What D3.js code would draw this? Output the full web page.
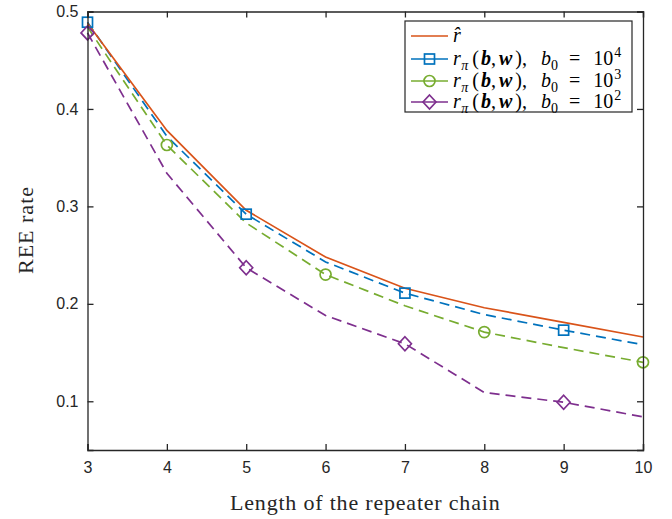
<!DOCTYPE html>
<html>
<head>
<meta charset="utf-8">
<script src="https://cdn.jsdelivr.net/npm/d3@7"></script>
<style>
  body { margin: 0; background: #fff; }
  svg { display: block; }
</style>
</head>
<body>
<div id="chart"></div>
<script>
// data
var lengths = [3, 4, 5, 6, 7, 8, 9, 10];
var rHat    = [0.488, 0.378, 0.296, 0.248, 0.216, 0.196, 0.181, 0.166];
var rB4     = [0.489, 0.372, 0.292, 0.243, 0.211, 0.189, 0.173, 0.158];
var rB3     = [0.484, 0.363, 0.283, 0.230, 0.198, 0.171, 0.155, 0.140];
var rB2     = [0.478, 0.334, 0.237, 0.188, 0.159, 0.109, 0.099, 0.084];
var xTicks  = [3, 4, 5, 6, 7, 8, 9, 10];
var yTicks  = [0.1, 0.2, 0.3, 0.4, 0.5];

var W = 672, H = 519;
var margin = {top: 11.5, right: 29, bottom: 69, left: 87.5},
    width = W - margin.left - margin.right,
    height = H - margin.top - margin.bottom;

var svg = d3.select("#chart")
  .append("svg")
    .attr("width", W)
    .attr("height", H)
  .append("g")
    .attr("transform", "translate(" + margin.left + "," + margin.top + ")");

var x = d3.scaleLinear().domain([3, 10]).range([0, width]);
var y = d3.scaleLinear().domain([0.05, 0.5]).range([height, 0]);

var series = [
  {name: "hat",  vals: rHat, color: "#D95319", dash: null,   marker: null,      idx: []},
  {name: "b4",   vals: rB4,  color: "#0072BD", dash: "10,6", marker: "square",  idx: [0, 2, 4, 6]},
  {name: "b3",   vals: rB3,  color: "#77AC30", dash: "10,6", marker: "circle",  idx: [1, 3, 5, 7]},
  {name: "b2",   vals: rB2,  color: "#7E2F8E", dash: "10,6", marker: "diamond", idx: [0, 2, 4, 6]}
];

var line = d3.line()
  .x(function(d, i) { return x(lengths[i]); })
  .y(function(d) { return y(d); });

// draw purple first so orange sits on top like the original
series.slice().reverse().forEach(function(s) {
  svg.append("path")
    .datum(s.vals)
    .attr("d", line)
    .attr("fill", "none")
    .attr("stroke", s.color)
    .attr("stroke-width", 1.7)
    .attr("stroke-dasharray", s.dash);
});

function drawMarker(g, type, cx, cy, color) {
  if (type === "square") {
    g.append("rect").attr("x", cx - 5).attr("y", cy - 5).attr("width", 10).attr("height", 10)
      .attr("fill", "none").attr("stroke", color).attr("stroke-width", 1.7);
  } else if (type === "circle") {
    g.append("circle").attr("cx", cx).attr("cy", cy).attr("r", 5.5)
      .attr("fill", "none").attr("stroke", color).attr("stroke-width", 1.7);
  } else if (type === "diamond") {
    g.append("path")
      .attr("d", "M" + cx + "," + (cy - 7) + "L" + (cx + 6.5) + "," + cy + "L" + cx + "," + (cy + 7) + "L" + (cx - 6.5) + "," + cy + "Z")
      .attr("fill", "none").attr("stroke", color).attr("stroke-width", 1.7);
  }
}

series.forEach(function(s) {
  s.idx.forEach(function(i) {
    drawMarker(svg, s.marker, x(lengths[i]), y(s.vals[i]), s.color);
  });
});

// axes: ticks pointing inward, box on
var tickFont = "'Liberation Sans', Arial, sans-serif";
var xAxis = svg.append("g")
  .attr("transform", "translate(0," + height + ")")
  .call(d3.axisBottom(x).tickValues(xTicks).tickSize(-6).tickPadding(12).tickFormat(d3.format("d")));
var xTop = svg.append("g")
  .call(d3.axisTop(x).tickValues(xTicks).tickSize(-6).tickFormat(""));
var yAxis = svg.append("g")
  .call(d3.axisLeft(y).tickValues(yTicks).tickSize(-6).tickPadding(9).tickFormat(d3.format(".1f")));
var yRight = svg.append("g")
  .attr("transform", "translate(" + width + ",0)")
  .call(d3.axisRight(y).tickValues(yTicks).tickSize(-6).tickFormat(""));

[xAxis, xTop, yAxis, yRight].forEach(function(a) {
  a.select(".domain").attr("stroke", "#262626").attr("stroke-width", 1.3);
  a.selectAll(".tick line").attr("stroke", "#262626").attr("stroke-width", 1.3);
  a.selectAll(".tick text").attr("fill", "#262626").style("font-family", tickFont).style("font-size", "16px");
});

// axis labels
var serif = "'Liberation Serif', 'DejaVu Serif', serif";
svg.append("text")
  .attr("x", width / 2)
  .attr("y", 510 - margin.top)
  .attr("text-anchor", "middle")
  .style("font-family", serif)
  .style("font-size", "22px")
  .style("letter-spacing", "0.8px")
  .attr("fill", "#262626")
  .text("Length of the repeater chain");

svg.append("text")
  .attr("transform", "translate(" + (33 - margin.left) + "," + (230 - margin.top) + ") rotate(-90)")
  .attr("text-anchor", "middle")
  .style("font-family", serif)
  .style("font-size", "22px")
  .style("letter-spacing", "1px")
  .attr("fill", "#262626")
  .text("REE rate");

// legend
var lg = svg.append("g").attr("transform", "translate(" + (405 - margin.left) + "," + (21 - margin.top) + ")");
lg.append("rect")
  .attr("width", 227).attr("height", 91)
  .attr("fill", "#fff").attr("stroke", "#262626").attr("stroke-width", 1.2);

var rowY = [15, 38, 60, 81];
var bVals = ["4", "3", "2"];
series.forEach(function(s, k) {
  var ry = rowY[k];
  lg.append("line")
    .attr("x1", 6).attr("x2", 43).attr("y1", ry).attr("y2", ry)
    .attr("stroke", s.color).attr("stroke-width", 1.7);
  if (s.marker) drawMarker(lg, s.marker, 24.5, ry, s.color);

  var t = lg.append("text")
    .attr("x", 48).attr("y", ry + 6)
    .style("font-family", serif)
    .style("font-size", "20px")
    .attr("fill", "#000");
  if (k === 0) {
    t.append("tspan").style("font-style", "italic").text("r\u0302");
  } else {
    t.append("tspan").style("font-style", "italic").text("r");
    t.append("tspan").attr("dx", 0.5).attr("dy", 5).style("font-size", "14px").style("font-style", "italic").text("\u03C0");
    t.append("tspan").attr("dx", 4).attr("dy", -5).text("(");
    t.append("tspan").attr("dx", 2).style("font-style", "italic").style("font-weight", "bold").text("b");
    t.append("tspan").text(",");
    t.append("tspan").attr("dx", 3).style("font-style", "italic").style("font-weight", "bold").text("w");
    t.append("tspan").attr("dx", 3).text("),");
    t.append("tspan").attr("dx", 14).style("font-style", "italic").text("b");
    t.append("tspan").attr("dy", 5).style("font-size", "14px").text("0");
    t.append("tspan").attr("dx", 11).attr("dy", -5).text("=");
    t.append("tspan").attr("dx", 13).text("10");
    t.append("tspan").attr("dx", 1).attr("dy", -8).style("font-size", "14px").text(bVals[k - 1]);
  }
});
</script>
</body>
</html>
